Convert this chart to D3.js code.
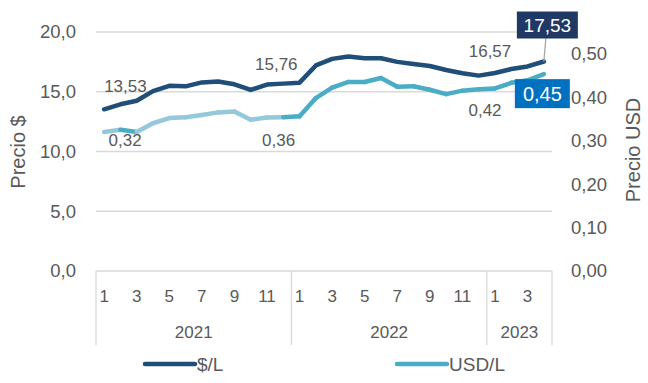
<!DOCTYPE html>
<html><head><meta charset="utf-8">
<script src="https://cdn.jsdelivr.net/npm/d3@7"></script>
<style>body{margin:0;background:#fff}svg{display:block}text{font-family:"Liberation Sans",Arial,sans-serif;fill:#595959}</style>
</head><body><svg id="c" width="648" height="383"></svg>
<script>
const years = ["2021","2022","2023"];
const monthsPerYear = [12,12,4];
const months = [1,2,3,4,5,6,7,8,9,10,11,12,1,2,3,4,5,6,7,8,9,10,11,12,1,2,3,4];
const pesosL = [13.53,13.95,14.25,15.05,15.5,15.45,15.78,15.85,15.62,15.15,15.6,15.68,15.76,17.2,17.75,17.95,17.8,17.8,17.5,17.33,17.15,16.82,16.55,16.35,16.57,16.9,17.12,17.53];
const usdL = [0.32,0.325,0.32,0.34,0.352,0.354,0.359,0.365,0.367,0.348,0.353,0.354,0.356,0.398,0.422,0.435,0.435,0.444,0.424,0.425,0.417,0.407,0.415,0.418,0.42,0.433,0.439,0.453];
// segments of USD/L drawn in the lighter tint: [fromIndex, toIndex]
const usdLightSegments = [[0,1],[2,11]];
const leftTicks = [0,5,10,15,20];
const rightTicks = [0,0.1,0.2,0.3,0.4,0.5];
const pesosLabels = [{i:0,t:"13,53"},{i:12,t:"15,76"},{i:24,t:"16,57"}];
const usdLabels = [{i:0,t:"0,32"},{i:12,t:"0,36"},{i:24,t:"0,42"}];
const seriesNames = ["$/L","USD/L"];

const NAVY="#1F4E79", TEAL="#4BACC6", LIGHT="#95C8DB", GRID="#D9D9D9";
const svg = d3.select("#c");
const L=96, R=552, T=32, B=271;
const idx = d3.range(months.length);
const x = d3.scaleBand().domain(idx).range([L,R]);
const cx = i => x(i)+x.bandwidth()/2;
const yL = d3.scaleLinear().domain([0,20]).range([B,T]);
const yR = d3.scaleLinear().domain([0,0.55]).range([B,T]);

// gridlines
svg.append("g").selectAll("line").data(leftTicks.filter(d=>d>0)).join("line")
  .attr("x1",L).attr("x2",R).attr("y1",d=>yL(d)).attr("y2",d=>yL(d))
  .attr("stroke",GRID).attr("stroke-width",1.3);

// left axis labels
const fmt1 = d=>d3.format(".1f")(d).replace(".",",");
const fmt2 = d=>d3.format(".2f")(d).replace(".",",");
svg.append("g").selectAll("text").data(leftTicks).join("text")
  .attr("x",76).attr("y",d=>yL(d)).attr("dy","0.35em").attr("text-anchor","end")
  .attr("font-size",18.5).text(fmt1);
svg.append("g").selectAll("text").data(rightTicks).join("text")
  .attr("x",571).attr("y",d=>yR(d)).attr("dy","0.35em").attr("text-anchor","start")
  .attr("font-size",18.5).text(fmt2);

// axis titles
svg.append("text").attr("transform","translate(25,152) rotate(-90)").attr("text-anchor","middle")
  .attr("font-size",20).text("Precio $");
svg.append("text").attr("transform","translate(640,150) rotate(-90)").attr("text-anchor","middle")
  .attr("font-size",20).text("Precio USD");

// category axis
const ax = svg.append("g");
ax.append("line").attr("x1",L).attr("x2",R).attr("y1",B).attr("y2",B).attr("stroke",GRID).attr("stroke-width",1.3);
let start=0; const bounds=[0];
monthsPerYear.forEach(n=>{start+=n;bounds.push(start);});
ax.selectAll("line.div").data(bounds).join("line").attr("class","div")
  .attr("x1",b=>b<months.length?x(b):R).attr("x2",b=>b<months.length?x(b):R)
  .attr("y1",B).attr("y2",345).attr("stroke",GRID).attr("stroke-width",1.3);
ax.selectAll("text.m").data(idx.filter(i=>months[i]%2===1)).join("text").attr("class","m")
  .attr("x",cx).attr("y",302).attr("text-anchor","middle").attr("font-size",17).text(i=>months[i]);
ax.selectAll("text.y").data(years).join("text").attr("class","y")
  .attr("x",(d,k)=>{const a=x(bounds[k]);const b=bounds[k+1]<months.length?x(bounds[k+1]):R;return (a+b)/2;})
  .attr("y",338).attr("text-anchor","middle").attr("font-size",17).text(d=>d);

// lines
const lineL = d3.line().x(cx).y(i=>yL(pesosL[i]));
const segs = d3.pairs(idx);
const isLight = ([a,b]) => usdLightSegments.some(([s,e])=>a>=s&&b<=e);
svg.append("g").selectAll("path").data(segs).join("path")
  .attr("d",([a,b])=>d3.line().x(cx).y(i=>yR(usdL[i]))([a,b]))
  .attr("fill","none").attr("stroke",s=>isLight(s)?LIGHT:TEAL).attr("stroke-width",4.5).attr("stroke-linecap","round");
svg.append("path").datum(idx).attr("d",lineL).attr("fill","none").attr("stroke",NAVY)
  .attr("stroke-width",4.5).attr("stroke-linejoin","round").attr("stroke-linecap","round");

// data labels
const pOff = [{dx:0,dy:-17,a:"start"},{dx:-2,dy:-13,a:"end"},{dx:-5,dy:-16,a:"middle"}];
svg.append("g").selectAll("text").data(pesosLabels).join("text")
  .attr("x",(d,k)=>cx(d.i)+pOff[k].dx).attr("y",(d,k)=>yL(pesosL[d.i])+pOff[k].dy)
  .attr("text-anchor",(d,k)=>pOff[k].a).attr("font-size",17).text(d=>d.t);
const uOff = [{dx:21,dy:14},{dx:-21,dy:30},{dx:-10,dy:28}];
svg.append("g").selectAll("text").data(usdLabels).join("text")
  .attr("x",(d,k)=>cx(d.i)+uOff[k].dx).attr("y",(d,k)=>yR(usdL[d.i])+uOff[k].dy)
  .attr("text-anchor","middle").attr("font-size",17).text(d=>d.t);

// last-value callouts
const last = months.length-1;
const pxL = cx(last), pyL = yL(pesosL[last]);
svg.append("line").attr("x1",pxL).attr("y1",pyL).attr("x2",pxL+2).attr("y2",38).attr("stroke","#A6A6A6").attr("stroke-width",1.3);
const b1 = svg.append("g").attr("transform",`translate(${pxL-27},${pyL-50})`);
b1.append("rect").attr("width",61).attr("height",27).attr("fill","#1F3864");
b1.append("text").attr("x",30.5).attr("y",14).attr("dy","0.36em").attr("text-anchor","middle")
  .attr("font-size",19).style("fill","#fff").text(fmt2(pesosL[last]));
const pyR = yR(usdL[last]);
const b2 = svg.append("g").attr("transform",`translate(${pxL-29},${pyR+5})`);
b2.append("rect").attr("width",55).attr("height",29).attr("fill","#0070C0");
b2.append("text").attr("x",27.5).attr("y",15).attr("dy","0.36em").attr("text-anchor","middle")
  .attr("font-size",20).style("fill","#fff").text(fmt2(usdL[last]));

// legend
const lg = svg.append("g");
const lgItems = [{x:145,c:NAVY},{x:397,c:TEAL}];
lgItems.forEach((it,k)=>{
  lg.append("line").attr("x1",it.x).attr("x2",it.x+50).attr("y1",364).attr("y2",364)
    .attr("stroke",it.c).attr("stroke-width",4.5).attr("stroke-linecap","round");
  lg.append("text").attr("x",it.x+52).attr("y",364).attr("dy","0.36em").attr("font-size",19).text(seriesNames[k]);
});
</script></body></html>
